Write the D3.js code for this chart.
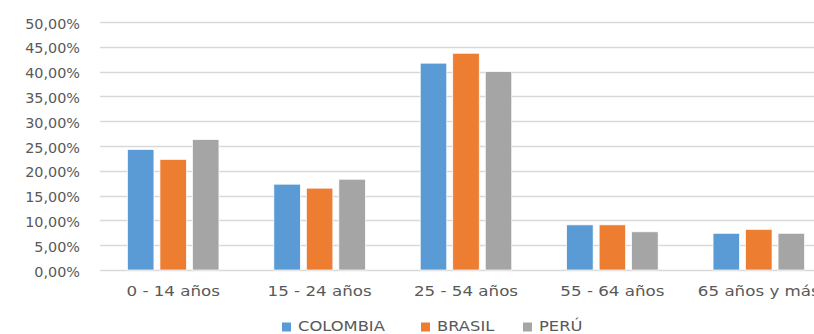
<!DOCTYPE html>
<html>
<head>
<meta charset="utf-8">
<script src="https://cdn.jsdelivr.net/npm/d3@7"></script>
<style>
  html, body { margin: 0; padding: 0; background: #fff; overflow: hidden; }
  svg { display: block; }
  text { font-family: "DejaVu Sans", sans-serif; fill: #595959; }
</style>
</head>
<body>
<svg id="chart" width="814" height="334"></svg>
<script>
const categories = ["0 - 14 años", "15 - 24 años", "25 - 54 años", "55 - 64 años", "65 años y más"];
const seriesNames = ["COLOMBIA", "BRASIL", "PERÚ"];
const colombia = [24.3, 17.3, 41.7, 9.1, 7.4];
const brasil   = [22.3, 16.5, 43.7, 9.1, 8.2];
const peru     = [26.3, 18.3, 40.0, 7.7, 7.4];
const seriesColors = ["#5b9bd5", "#ed7d31", "#a5a5a5"];
const yTicks = [0, 5, 10, 15, 20, 25, 30, 35, 40, 45, 50];

const seriesValues = [colombia, brasil, peru];
const svg = d3.select("#chart");

const plotLeft = 100, plotRight = 832, plotTop = 22, plotBottom = 270;

const x0 = d3.scaleBand().domain(categories).range([plotLeft, plotRight])
  .paddingInner(0.375).paddingOuter(0.1875);
const x1 = d3.scaleBand().domain(seriesNames).range([0, x0.bandwidth()])
  .paddingInner(0.185).paddingOuter(0);
const y = d3.scaleLinear().domain([0, 50]).range([plotBottom, plotTop]);

const fmt = v => d3.format(".2f")(v).replace(".", ",") + "%";

// gridlines
svg.append("g").selectAll("line").data(yTicks).join("line")
  .attr("x1", plotLeft).attr("x2", plotRight)
  .attr("y1", d => Math.round(y(d)) + 0.5).attr("y2", d => Math.round(y(d)) + 0.5)
  .attr("stroke", "#d9d9d9").attr("stroke-width", 1.3);

// y axis labels
const yAxis = d3.axisLeft(y).tickValues(yTicks).tickFormat(fmt).tickSize(0).tickPadding(0);
const yg = svg.append("g").attr("transform", `translate(80,0)`).call(yAxis);
yg.select(".domain").remove();
yg.selectAll("text").attr("font-size", 14.4).attr("fill", "#595959").attr("dy", "0.42em")
  .style("font-family", "'DejaVu Sans', sans-serif");

// bars
const groups = svg.append("g").selectAll("g").data(categories).join("g")
  .attr("transform", d => `translate(${x0(d)},0)`);
groups.selectAll("rect")
  .data((c, i) => seriesNames.map((s, j) => ({ s, v: seriesValues[j][i], j })))
  .join("rect")
  .attr("x", d => x1(d.s))
  .attr("width", x1.bandwidth())
  .attr("y", d => y(d.v))
  .attr("height", d => y(0) - y(d.v))
  .attr("fill", d => seriesColors[d.j])
  .attr("stroke", "#ffffff").attr("stroke-width", 0.7);

// x axis labels
const xAxis = d3.axisBottom(x0).tickSize(0).tickPadding(0);
const xg = svg.append("g").attr("transform", `translate(0,${plotBottom})`).call(xAxis);
xg.select(".domain").remove();
xg.selectAll("text").attr("font-size", 14.4).attr("fill", "#595959")
  .attr("y", 26).attr("dy", null)
  .attr("transform", "scale(1.16,1)")
  .style("font-family", "'DejaVu Sans', sans-serif");

// legend
const legendX = [282, 421, 523];
const lg = svg.append("g").selectAll("g").data(seriesNames).join("g")
  .attr("transform", (d, i) => `translate(${legendX[i]},0)`);
lg.append("rect").attr("y", 322.5).attr("width", 9).attr("height", 9).attr("fill", (d, i) => seriesColors[i]);
lg.append("text").attr("transform", "translate(16,331) scale(1.2,1)")
  .attr("font-size", 13.6).text(d => d);
</script>
</body>
</html>
